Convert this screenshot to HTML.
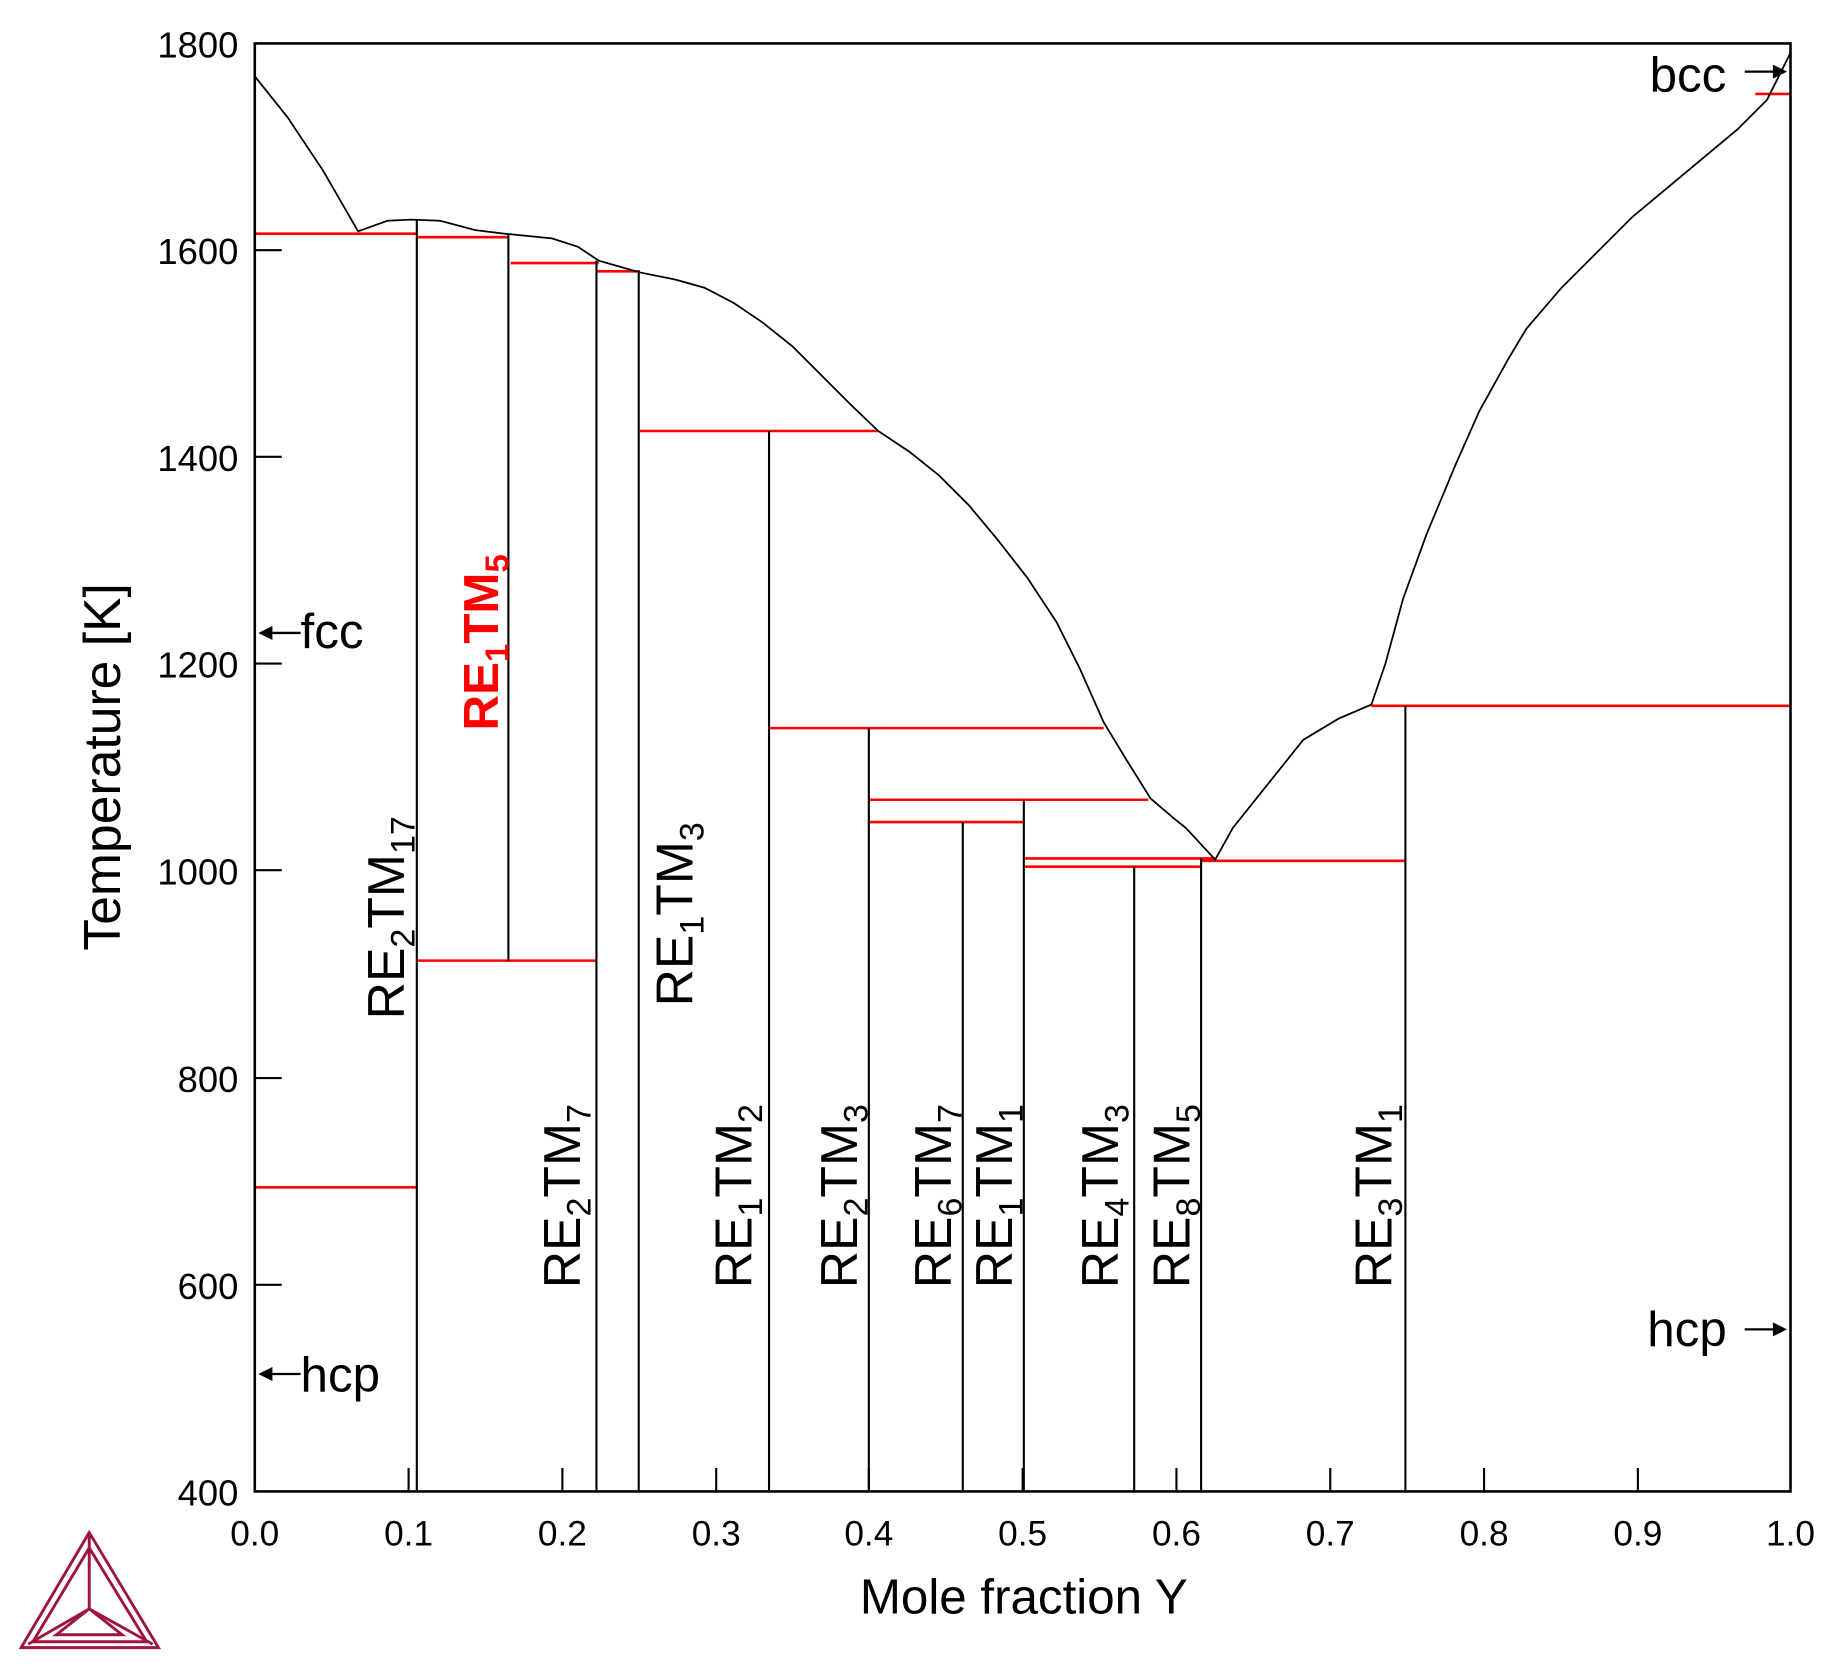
<!DOCTYPE html>
<html><head><meta charset="utf-8"><style>html,body{margin:0;padding:0;background:#fff}svg{display:block}</style></head>
<body>
<svg width="1841" height="1677" viewBox="0 0 1568 1428" preserveAspectRatio="none" xmlns="http://www.w3.org/2000/svg" font-family="Liberation Sans, sans-serif">
<rect width="1568" height="1428" fill="#fff"/>
<g stroke="#f00" stroke-width="2.2" fill="none">
<line x1="217" y1="199" x2="355" y2="199"/>
<line x1="355" y1="202" x2="433" y2="202"/>
<line x1="435" y1="224" x2="510" y2="224"/>
<line x1="508" y1="231" x2="545" y2="231"/>
<line x1="545" y1="367" x2="748" y2="367"/>
<line x1="655" y1="620" x2="940" y2="620"/>
<line x1="740" y1="681" x2="978" y2="681"/>
<line x1="740" y1="700" x2="872" y2="700"/>
<line x1="872" y1="731" x2="1035" y2="731"/>
<line x1="872" y1="738" x2="1022" y2="738"/>
<line x1="1022" y1="733" x2="1197" y2="733"/>
<line x1="1168" y1="601" x2="1525" y2="601"/>
<line x1="355" y1="818" x2="508" y2="818"/>
<line x1="217" y1="1011" x2="355" y2="1011"/>
<line x1="1495" y1="80" x2="1525" y2="80"/>
</g>
<g stroke="#000" stroke-width="1.8">
<line x1="355" y1="187" x2="355" y2="1270"/>
<line x1="433" y1="199" x2="433" y2="818"/>
<line x1="508" y1="222" x2="508" y2="1270"/>
<line x1="544" y1="231" x2="544" y2="1270"/>
<line x1="655" y1="367" x2="655" y2="1270"/>
<line x1="740" y1="620" x2="740" y2="1270"/>
<line x1="820" y1="700" x2="820" y2="1270"/>
<line x1="872" y1="681" x2="872" y2="1270"/>
<line x1="966" y1="738" x2="966" y2="1270"/>
<line x1="1023" y1="731" x2="1023" y2="1270"/>
<line x1="1197" y1="601" x2="1197" y2="1270"/>
</g>
<polyline fill="none" stroke="#000" stroke-width="1.5" points="217,65 245,100 275,145 305,197 330,188 350,187 375,188 405,196 430,199 470,203 492,210 510,222 545,232 575,238 600,245 625,258 650,275 675,295 700,320 725,345 748,367 775,385 800,405 825,430 850,460 875,492 900,530 920,570 940,615 960,648 980,680 1000,697 1010,705 1022,718 1035,732 1050,705 1070,680 1090,655 1110,630 1140,612 1168,600 1180,565 1195,510 1215,455 1240,395 1260,350 1285,305 1300,280 1330,245 1360,215 1390,185 1420,160 1450,135 1480,110 1505,85 1525,45"/>
<rect x="217" y="37" width="1308" height="1233" fill="none" stroke="#000" stroke-width="2.2"/>
<g stroke="#000" stroke-width="1.8">
<line x1="348" y1="1270" x2="348" y2="1250"/><line x1="479" y1="1270" x2="479" y2="1250"/><line x1="610" y1="1270" x2="610" y2="1250"/><line x1="740" y1="1270" x2="740" y2="1250"/><line x1="871" y1="1270" x2="871" y2="1250"/><line x1="1002" y1="1270" x2="1002" y2="1250"/><line x1="1133" y1="1270" x2="1133" y2="1250"/><line x1="1264" y1="1270" x2="1264" y2="1250"/><line x1="1395" y1="1270" x2="1395" y2="1250"/>
<line x1="217" y1="213" x2="240" y2="213"/><line x1="217" y1="389" x2="240" y2="389"/><line x1="217" y1="565" x2="240" y2="565"/><line x1="217" y1="741" x2="240" y2="741"/><line x1="217" y1="918" x2="240" y2="918"/><line x1="217" y1="1094" x2="240" y2="1094"/>
</g>
<g font-size="31" fill="#000" text-anchor="end">
<text x="203" y="49">1800</text><text x="203" y="225">1600</text><text x="203" y="401">1400</text><text x="203" y="577">1200</text><text x="203" y="753">1000</text><text x="203" y="930">800</text><text x="203" y="1106">600</text><text x="203" y="1282">400</text>
</g>
<g font-size="30" fill="#000" text-anchor="middle">
<text x="217" y="1316">0.0</text><text x="348" y="1316">0.1</text><text x="479" y="1316">0.2</text><text x="610" y="1316">0.3</text><text x="740" y="1316">0.4</text><text x="871" y="1316">0.5</text><text x="1002" y="1316">0.6</text><text x="1133" y="1316">0.7</text><text x="1264" y="1316">0.8</text><text x="1395" y="1316">0.9</text><text x="1525" y="1316">1.0</text>
</g>
<text x="872" y="1374" font-size="42" text-anchor="middle">Mole fraction Y</text>
<text transform="translate(102,653) rotate(-90)" font-size="44" text-anchor="middle">Temperature [K]</text>
<g font-size="44" fill="#000">
<text transform="translate(344,868) rotate(-90)">RE<tspan font-size="29" dy="9">2</tspan><tspan dy="-9">TM</tspan><tspan font-size="29" dy="9">17</tspan></text>
<text transform="translate(494,1097) rotate(-90)">RE<tspan font-size="29" dy="9">2</tspan><tspan dy="-9">TM</tspan><tspan font-size="29" dy="9">7</tspan></text>
<text transform="translate(590,857) rotate(-90)">RE<tspan font-size="29" dy="9">1</tspan><tspan dy="-9">TM</tspan><tspan font-size="29" dy="9">3</tspan></text>
<text transform="translate(640,1097) rotate(-90)">RE<tspan font-size="29" dy="9">1</tspan><tspan dy="-9">TM</tspan><tspan font-size="29" dy="9">2</tspan></text>
<text transform="translate(730,1097) rotate(-90)">RE<tspan font-size="29" dy="9">2</tspan><tspan dy="-9">TM</tspan><tspan font-size="29" dy="9">3</tspan></text>
<text transform="translate(810,1097) rotate(-90)">RE<tspan font-size="29" dy="9">6</tspan><tspan dy="-9">TM</tspan><tspan font-size="29" dy="9">7</tspan></text>
<text transform="translate(862,1097) rotate(-90)">RE<tspan font-size="29" dy="9">1</tspan><tspan dy="-9">TM</tspan><tspan font-size="29" dy="9">1</tspan></text>
<text transform="translate(952,1097) rotate(-90)">RE<tspan font-size="29" dy="9">4</tspan><tspan dy="-9">TM</tspan><tspan font-size="29" dy="9">3</tspan></text>
<text transform="translate(1013,1097) rotate(-90)">RE<tspan font-size="29" dy="9">8</tspan><tspan dy="-9">TM</tspan><tspan font-size="29" dy="9">5</tspan></text>
<text transform="translate(1185,1097) rotate(-90)">RE<tspan font-size="29" dy="9">3</tspan><tspan dy="-9">TM</tspan><tspan font-size="29" dy="9">1</tspan></text>
</g>
<text transform="translate(424,622) rotate(-90)" font-size="42" font-weight="bold" fill="#f00">RE<tspan font-size="28" dy="9">1</tspan><tspan dy="-9">TM</tspan><tspan font-size="28" dy="9">5</tspan></text>
<g font-size="42" fill="#000">
<text x="256" y="552">fcc</text><text x="256" y="1185">hcp</text><text x="1405" y="78">bcc</text><text x="1403" y="1146">hcp</text>
</g>
<g stroke="#000" stroke-width="2">
<line x1="222" y1="539" x2="256" y2="539"/><line x1="222" y1="1170" x2="256" y2="1170"/>
<line x1="1486" y1="61" x2="1520" y2="61"/><line x1="1486" y1="1132" x2="1520" y2="1132"/>
</g>
<g fill="#000">
<polygon points="220,539 232,533 232,545"/><polygon points="220,1170 232,1164 232,1176"/>
<polygon points="1522,61 1510,55 1510,67"/><polygon points="1522,1132 1510,1126 1510,1138"/>
</g>
<g fill="none" stroke="#a0153e" stroke-width="2.5">
<polygon points="76,1305 18,1403 135,1403"/>
<polygon points="76,1318 28,1398 125,1398"/>
<line x1="76" y1="1305" x2="76" y2="1370"/>
<polygon points="76,1370 48,1392 104,1392"/>
<line x1="76" y1="1370" x2="24" y2="1400"/><line x1="76" y1="1370" x2="130" y2="1400"/>
</g>
</svg>
</body></html>
